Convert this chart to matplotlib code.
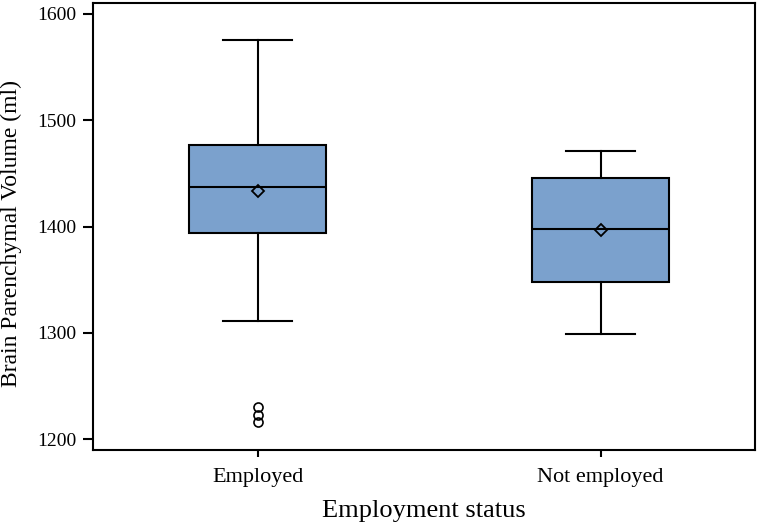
import matplotlib
matplotlib.use("Agg")
from matplotlib import pyplot as plt

# values
groups = ['Employed', 'Not employed']
whislo = [1311, 1299]
q1 = [1394, 1348]
med = [1437, 1398]
q3 = [1477, 1446]
whishi = [1575, 1471]
means = [1433, 1397]
fliers = [[1230, 1223, 1216], []]

plt.rcParams['font.family'] = ['Liberation Serif', 'DejaVu Serif']

stats = []
for i, name in enumerate(groups):
    stats.append({'label': name, 'whislo': whislo[i], 'q1': q1[i], 'med': med[i],
                  'q3': q3[i], 'whishi': whishi[i], 'mean': means[i],
                  'fliers': fliers[i]})

fig = plt.figure(figsize=(7.7, 5.25), dpi=100)
ax = fig.add_axes([93 / 770, 75 / 525, 662 / 770, 447 / 525])

box_color = '#7ba1cd'
ax.bxp(stats, positions=[1, 2], widths=0.40, showmeans=True, patch_artist=True,
       boxprops=dict(facecolor=box_color, edgecolor='black', linewidth=1.5),
       medianprops=dict(color='black', linewidth=1.5),
       whiskerprops=dict(color='black', linewidth=1.5),
       capprops=dict(color='black', linewidth=1.5),
       capwidths=0.20,
       meanprops=dict(marker='D', markerfacecolor='none', markeredgecolor='black',
                      markersize=6, markeredgewidth=1.3),
       flierprops=dict(marker='o', markerfacecolor='none', markeredgecolor='black',
                       markersize=6.5, markeredgewidth=1.2))

ax.set_xlim(0.52, 2.45)
ax.set_ylim(1190, 1610)
ax.set_yticks([1200, 1300, 1400, 1500, 1600])
ax.set_xticks([1, 2])
ax.set_xticklabels(groups)
ax.tick_params(axis='y', direction='out', length=7, width=1.5, labelsize=14, pad=5)
ax.tick_params(axis='x', direction='out', length=5, width=1.5, labelsize=16, pad=8)
for sp in ax.spines.values():
    sp.set_linewidth(1.5)

ax.set_xlabel('Employment status', fontsize=19, labelpad=9)
ax.set_ylabel('Brain Parenchymal Volume (ml)', fontsize=17)
ax.yaxis.set_label_coords(-0.108, 0.485)

fig.savefig('out.png', dpi=100)
